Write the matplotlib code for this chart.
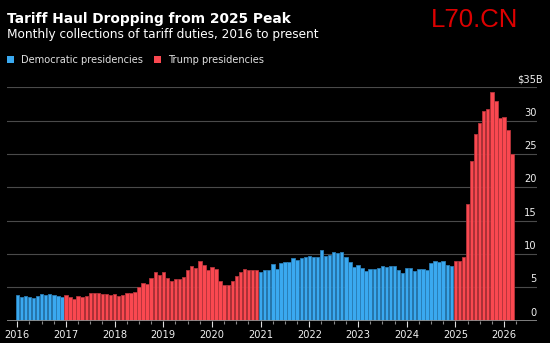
import matplotlib
matplotlib.use("Agg")
import matplotlib.pyplot as plt
import matplotlib.transforms as mtransforms
from matplotlib.patches import Rectangle
import numpy as np

# Monthly tariff collections, $ billions
dem_2016 = [3.8, 3.5, 3.65, 3.5, 3.4, 3.65, 4.0, 3.85, 4.05, 3.8, 3.7, 3.55]
trump_2017_2020 = [
    3.85, 3.55, 3.3, 3.65, 3.6, 3.7, 4.1, 4.15, 4.15, 4.05, 3.95, 3.8,
    4.05, 3.75, 3.9, 4.15, 4.15, 4.25, 5.0, 5.65, 5.5, 6.4, 7.25, 6.8,
    7.3, 6.45, 5.95, 6.3, 6.2, 6.5, 7.65, 8.2, 7.95, 8.95, 8.4, 7.65,
    8.05, 7.8, 6.0, 5.4, 5.35, 5.95, 6.65, 7.25, 7.7, 7.65, 7.65, 7.55,
]
dem_2021_2024 = [
    7.25, 7.55, 7.65, 8.55, 7.8, 8.65, 8.85, 8.85, 9.4, 9.15, 9.4, 9.55,
    9.65, 9.5, 9.5, 10.55, 9.65, 9.9, 10.25, 10.15, 10.35, 9.6, 8.85, 8.1,
    8.4, 7.9, 7.5, 7.7, 7.8, 7.9, 8.25, 8.0, 8.15, 8.15, 7.65, 7.2,
    7.95, 7.85, 7.4, 7.75, 7.75, 7.6, 8.65, 8.95, 8.8, 9.0, 8.4, 8.25,
]
trump_2025_2026 = [8.95, 8.95, 9.6, 17.45, 24.0, 28.05, 29.65, 31.4,
                   31.75, 34.3, 32.9, 30.4, 30.5, 28.65, 25.05]

years = [str(y) for y in range(2016, 2027)]
y_ticks = [0, 5, 10, 15, 20, 25, 30, 35]

BLUE = "#3aa9f0"
BLUE_EDGE = "#2a7db5"
RED = "#fa4850"
RED_EDGE = "#b5343b"
BG = "#000000"

W, H = 550, 343
fig = plt.figure(figsize=(W / 100, H / 100), dpi=100, facecolor=BG)

def fx(px):
    return px / W

def fy(py):
    return 1 - py / H

ax_left, ax_right = 6.7, 536.7
ax_top, ax_bottom = 87.3, 320.7
ax = fig.add_axes([fx(ax_left), fy(ax_bottom), fx(ax_right - ax_left),
                   (ax_bottom - ax_top) / H])
ax.set_facecolor(BG)

# Assemble the series month by month
segments = [(dem_2016, BLUE, BLUE_EDGE), (trump_2017_2020, RED, RED_EDGE),
            (dem_2021_2024, BLUE, BLUE_EDGE), (trump_2025_2026, RED, RED_EDGE)]
start = 0
for vals, col, edge in segments:
    x = np.arange(start, start + len(vals))
    ax.bar(x, vals, width=0.84, color=col, edgecolor=edge, linewidth=0.6,
           zorder=3)
    start += len(vals)

px_per_month = 4.056
ax.set_xlim(-(17.3 - ax_left) / px_per_month, (ax_right - 17.3) / px_per_month)
ax.set_ylim(0, 35)

# Grid
for v in y_ticks[1:]:
    ax.axhline(v, color="#4a4a4a", lw=0.8, zorder=1)
ax.axhline(0, color="#8a8a8a", lw=1.3, zorder=4)

for s in ax.spines.values():
    s.set_visible(False)

# X ticks: years major, quarters minor
ax.set_xticks(np.arange(0, 121, 12))
ax.set_xticklabels(years)
ax.set_xticks([m for m in range(0, 124, 3) if m % 12], minor=True)
ax.tick_params(axis="x", which="major", length=4.5, width=0.8,
               color="#dddddd", labelcolor="#f0f0f0", labelsize=7.1, pad=2.2)
ax.tick_params(axis="x", which="minor", length=2.5, width=0.8,
               color="#888888")
ax.set_yticks([])

# Y labels above gridlines, right-aligned at the axis edge
for v in y_ticks:
    label = "$35B" if v == 35 else str(v)
    dx = 6.6 if v == 35 else 0
    tr = mtransforms.offset_copy(ax.get_yaxis_transform(), fig=fig,
                                 x=dx * 0.72, y=5 * 0.72, units="points")
    ax.text(1.0, v, label, transform=tr, ha="right", va="baseline",
            color="#f0f0f0", fontsize=7.1, zorder=5)

# Titles
fig.text(fx(7), fy(22.7), "Tariff Haul Dropping from 2025 Peak",
         fontsize=9.9, fontweight="bold", color="white", va="baseline",
         ha="left")
fig.text(fx(7), fy(38.3), "Monthly collections of tariff duties, 2016 to present",
         fontsize=8.7, color="white", va="baseline", ha="left")

# Legend
for x0, col, txt, tx in [(7.3, BLUE, "Democratic presidencies", 20.7),
                         (154.3, RED, "Trump presidencies", 168.3)]:
    fig.add_artist(Rectangle((fx(x0), fy(62.7)), 7 / W, 7 / H,
                             transform=fig.transFigure, facecolor=col,
                             edgecolor="none"))
    fig.text(fx(tx), fy(62.7), txt, fontsize=7.1, color="#e0e0e0",
             va="baseline", ha="left")

# Site mark
fig.text(fx(518), fy(27), "L70.CN", fontsize=18.5, color="#dd0000",
         family="Liberation Sans", ha="right", va="baseline")

fig.savefig("out.png", dpi=100, facecolor=BG)
